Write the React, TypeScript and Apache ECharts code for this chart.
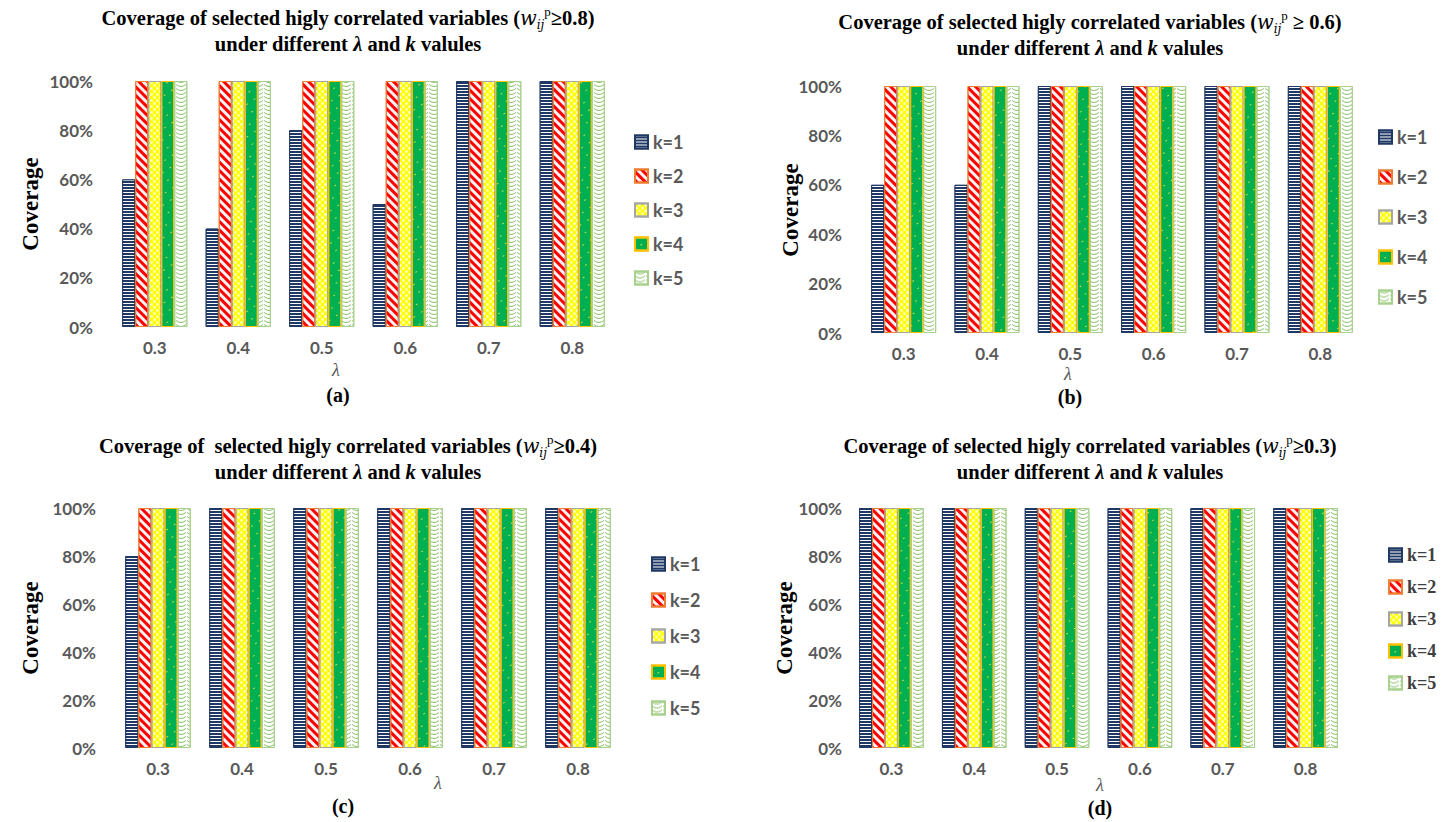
import React, { useEffect, useRef } from "react";
import * as echarts from "echarts";

// ---------- data ----------
const categories = ["0.3", "0.4", "0.5", "0.6", "0.7", "0.8"];
const kNames = ["k=1", "k=2", "k=3", "k=4", "k=5"];
const yTicks = [0, 20, 40, 60, 80, 100];

// coverage (%) per panel, one row per k (k=1..k=5)
const coverageA: number[][] = [
  [60, 40, 80, 50, 100, 100],
  [100, 100, 100, 100, 100, 100],
  [100, 100, 100, 100, 100, 100],
  [100, 100, 100, 100, 100, 100],
  [100, 100, 100, 100, 100, 100],
];
const coverageB: number[][] = [
  [60, 60, 100, 100, 100, 100],
  [100, 100, 100, 100, 100, 100],
  [100, 100, 100, 100, 100, 100],
  [100, 100, 100, 100, 100, 100],
  [100, 100, 100, 100, 100, 100],
];
const coverageC: number[][] = [
  [80, 100, 100, 100, 100, 100],
  [100, 100, 100, 100, 100, 100],
  [100, 100, 100, 100, 100, 100],
  [100, 100, 100, 100, 100, 100],
  [100, 100, 100, 100, 100, 100],
];
const coverageD: number[][] = [
  [100, 100, 100, 100, 100, 100],
  [100, 100, 100, 100, 100, 100],
  [100, 100, 100, 100, 100, 100],
  [100, 100, 100, 100, 100, 100],
  [100, 100, 100, 100, 100, 100],
];
const thresholds = ["≥0.8", " ≥ 0.6", "≥0.4", "≥0.3"];
const panelLetters = ["(a)", "(b)", "(c)", "(d)"];

// ---------- styles ----------
const SERIF = "'Liberation Serif', 'Times New Roman', serif";
const SANS = "Lato, 'Open Sans', sans-serif";

const seriesStyles = [
  {
    color: "#1F3864",
    borderColor: "#1F3864",
    decal: { symbol: "rect", symbolSize: 1, color: "#FFFFFF", dashArrayX: [1, 0], dashArrayY: [1, 2], rotation: 0 },
  },
  {
    color: "#F4F4F4",
    borderColor: "#ED7D31",
    decal: { symbol: "rect", symbolSize: 1, color: "#FF0000", dashArrayX: [1, 0], dashArrayY: [3, 3], rotation: Math.PI / 4 },
  },
  {
    color: "#FFFF00",
    borderColor: "#A5A5A5",
    decal: { symbol: "rect", symbolSize: 0.8, color: "#FFFFD0", dashArrayX: [[3, 3], [0, 3, 3, 0]], dashArrayY: [3, 0], rotation: 0 },
  },
  {
    color: "#00B050",
    borderColor: "#FFC000",
    decal: { symbol: "rect", symbolSize: 1, color: "#C8D84A", dashArrayX: [2, 7], dashArrayY: [1, 8], rotation: -0.6 },
  },
  {
    color: "#FFFFFF",
    borderColor: "#A9D18E",
    decal: {
      symbol: "path://M0,0 Q5,7 10,0 L10,2 Q5,9 0,2 Z",
      symbolSize: 1,
      symbolKeepAspect: false,
      color: "#8CC06A",
      dashArrayX: [10, 1],
      dashArrayY: [3, 1],
      rotation: 0,
    },
  },
];

const panels = [
  {
    data: coverageA,
    grid: { left: 113, top: 81, width: 501, height: 246 },
    yLabelMargin: 20,
    legend: { left: 629, top: 127, itemGap: 14, font: SANS, color: "#595959" },
    title: { x: 348, y: 5, size: 20.5 },
    yName: { x: 30, y: 204 },
    lambda: { x: 336, y: 370 },
    letter: { x: 338, y: 395 },
  },
  {
    data: coverageB,
    grid: { left: 862, top: 86, width: 500, height: 247 },
    yLabelMargin: 20,
    legend: { left: 1373, top: 122, itemGap: 20, font: SANS, color: "#595959" },
    title: { x: 1090, y: 9, size: 20.5 },
    yName: { x: 790, y: 210 },
    lambda: { x: 1068, y: 374 },
    letter: { x: 1070, y: 397 },
  },
  {
    data: coverageC,
    grid: { left: 116, top: 508, width: 504, height: 240 },
    yLabelMargin: 20,
    legend: { left: 646, top: 549, itemGap: 16, font: SANS, color: "#595959" },
    title: { x: 348, y: 433, size: 20.5 },
    yName: { x: 30, y: 628 },
    lambda: { x: 438, y: 783 },
    letter: { x: 343, y: 806 },
  },
  {
    data: coverageD,
    grid: { left: 850, top: 508, width: 497, height: 240 },
    yLabelMargin: 8,
    legend: { left: 1383, top: 540, itemGap: 12, font: SERIF, color: "#404040" },
    title: { x: 1090, y: 433, size: 20.5 },
    yName: { x: 784, y: 628 },
    lambda: { x: 1100, y: 785 },
    letter: { x: 1100, y: 808 },
  },
];

function titleRich(size: number) {
  const lh = 26;
  return {
    t: { fontFamily: SERIF, fontWeight: "bold", fontSize: size, color: "#000", lineHeight: lh },
    ti: { fontFamily: SERIF, fontWeight: "bold", fontStyle: "italic", fontSize: size, color: "#000", lineHeight: lh },
    w: { fontFamily: "'DejaVu Serif', serif", fontStyle: "italic", fontSize: size - 1, color: "#4A4A5E", lineHeight: lh },
    sub: { fontFamily: "'DejaVu Serif', serif", fontStyle: "italic", fontSize: 12, color: "#4A4A5E", verticalAlign: "bottom", lineHeight: 17 },
    sup: { fontFamily: SERIF, fontSize: 13, color: "#000", verticalAlign: "top", lineHeight: 20 },
  };
}

function buildOption() {
  const grid: any[] = [];
  const xAxis: any[] = [];
  const yAxis: any[] = [];
  const series: any[] = [];
  const legend: any[] = [];
  const graphic: any[] = [];

  panels.forEach((p, pi) => {
    grid.push({ ...p.grid, containLabel: false });
    xAxis.push({
      type: "category",
      gridIndex: pi,
      data: categories,
      axisLine: { show: false },
      axisTick: { show: false },
      axisLabel: { margin: 12, fontFamily: SANS, fontWeight: "bold", fontSize: 17, color: "#595959" },
    });
    yAxis.push({
      type: "value",
      gridIndex: pi,
      min: yTicks[0],
      max: yTicks[yTicks.length - 1],
      interval: 20,
      splitLine: { show: false },
      axisLine: { show: false },
      axisTick: { show: false },
      axisLabel: { margin: p.yLabelMargin, formatter: "{value}%", fontFamily: SANS, fontWeight: "bold", fontSize: 17, color: "#595959" },
    });
    p.data.forEach((vals, ki) => {
      const st = seriesStyles[ki];
      series.push({
        type: "bar",
        name: kNames[ki],
        xAxisIndex: pi,
        yAxisIndex: pi,
        data: vals,
        barGap: "0%",
        barCategoryGap: "22%",
        itemStyle: { color: st.color, borderColor: st.borderColor, borderWidth: 1, decal: st.decal },
      });
    });
    legend.push({
      orient: "vertical",
      left: p.legend.left,
      top: p.legend.top,
      itemGap: p.legend.itemGap,
      itemWidth: 13,
      itemHeight: 13,
      icon: "rect",
      data: kNames,
      selectedMode: false,
      textStyle: { fontFamily: p.legend.font, fontWeight: "bold", fontSize: 18, color: p.legend.color, lineHeight: 20 },
    });

    const thr = thresholds[pi];
    const lead = pi === 2 ? "Coverage of  selected higly correlated variables (" : "Coverage of selected higly correlated variables (";
    graphic.push({
      type: "text",
      x: p.title.x,
      y: p.title.y,
      style: {
        text: `{t|${lead}}{w|w}{sub|ij}{sup|p}{t|${thr})}\n{t|under different }{ti|λ}{t| and }{ti|k}{t| valules}`,
        rich: titleRich(p.title.size),
        align: "center",
        verticalAlign: "top",
      },
    });
    graphic.push({
      type: "text",
      x: p.yName.x,
      y: p.yName.y,
      rotation: Math.PI / 2,
      style: { text: "Coverage", fontFamily: SERIF, fontWeight: "bold", fontSize: 23, fill: "#000", align: "center", verticalAlign: "middle" },
    });
    graphic.push({
      type: "text",
      x: p.lambda.x,
      y: p.lambda.y,
      style: { text: "λ", fontFamily: SERIF, fontStyle: "italic", fontSize: 18, fill: "#595959", align: "center", verticalAlign: "middle" },
    });
    graphic.push({
      type: "text",
      x: p.letter.x,
      y: p.letter.y,
      style: { text: panelLetters[pi], fontFamily: SERIF, fontWeight: "bold", fontSize: 20, fill: "#000", align: "center", verticalAlign: "middle" },
    });
  });

  return {
    animation: false,
    backgroundColor: "#FFFFFF",
    grid,
    xAxis,
    yAxis,
    series,
    legend,
    graphic,
  };
}

export default function App() {
  const ref = useRef<HTMLDivElement>(null);
  useEffect(() => {
    if (!ref.current) return;
    const chart = echarts.init(ref.current, null, { renderer: "svg" });
    chart.setOption(buildOption() as any);
    return () => chart.dispose();
  }, []);
  return (
    <div
      ref={ref}
      style={{ position: "fixed", left: 0, top: 0, width: 1445, height: 822, background: "#fff" }}
    />
  );
}
